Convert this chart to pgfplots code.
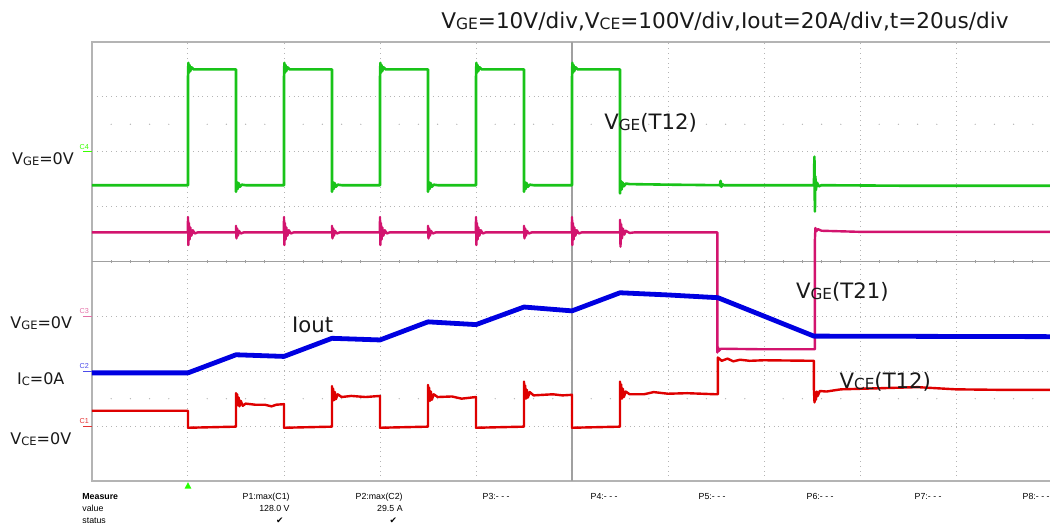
\documentclass[border=0pt]{standalone}
\usepackage{fontspec}
\setmainfont{DejaVu Sans}
\newfontfamily\arialf{Liberation Sans}
\newfontfamily\dejavu{DejaVu Sans}
\usepackage{graphicx}
\usepackage{pgfplots}
\pgfplotsset{compat=1.18}
\definecolor{cgreen}{RGB}{25,195,25}
\definecolor{cmag}{RGB}{210,20,110}
\definecolor{cblue}{RGB}{0,0,225}
\definecolor{cred}{RGB}{222,0,0}
\definecolor{cgrid}{RGB}{180,180,180}
\definecolor{ccenter}{RGB}{160,160,160}
\definecolor{ctext}{RGB}{25,25,25}
\newcommand{\sub}[1]{\raisebox{-0.1ex}{\scalebox{0.72}{#1}}}
\begin{document}
\begin{tikzpicture}
\begin{axis}[
  scale only axis, width=480pt, height=219.5pt,
  xmin=0, xmax=10, ymin=0, ymax=8,
  xtick={0,...,10}, ytick={0,...,8},
  xticklabels={}, yticklabels={},
  major tick length=0pt,
  grid=major,
  major grid style={cgrid, dotted, line width=0.5pt},
  axis line style={cgrid, line width=0.9pt},
  clip=false,
  every axis plot/.append style={line join=round, no marks},
]
% centre cross of the graticule
\draw[ccenter, line width=0.6pt] (axis cs:5,0) -- (axis cs:5,8);
\draw[ccenter, line width=0.6pt] (axis cs:0,4) -- (axis cs:10,4);
\pgfplotsinvokeforeach{0.2,0.4,0.6,0.8,1.2,1.4,1.6,1.8,2.2,2.4,2.6,2.8,3.2,3.4,3.6,3.8,4.2,4.4,4.6,4.8,5.2,5.4,5.6,5.8,6.2,6.4,6.6,6.8,7.2,7.4,7.6,7.8}{
  \draw[ccenter, line width=0.5pt] (axis cs:4.985,#1) -- (axis cs:5.015,#1);
}
\pgfplotsinvokeforeach{0.2,0.4,0.6,0.8,1.2,1.4,1.6,1.8,2.2,2.4,2.6,2.8,3.2,3.4,3.6,3.8,4.2,4.4,4.6,4.8,5.2,5.4,5.6,5.8,6.2,6.4,6.6,6.8,7.2,7.4,7.6,7.8,8.2,8.4,8.6,8.8,9.2,9.4,9.6,9.8}{
  \draw[ccenter, line width=0.5pt] (axis cs:#1,3.97) -- (axis cs:#1,4.03);
  \fill[cgrid] (axis cs:#1,6.5) circle (0.35pt);
  \fill[cgrid] (axis cs:#1,1.5) circle (0.35pt);
}

% VGE(T12) - green
\addplot[cgreen, line width=1.3pt] coordinates {
(0,5.39)(1.0,5.39)(1.0,7.35)(1.004,7.62)(1.01,7.44)(1.016,7.58)(1.024,7.47)(1.035,7.54)(1.06,7.50)(1.5,7.50)
(1.5,5.27)(1.508,5.45)(1.516,5.32)(1.526,5.43)(1.54,5.36)(1.56,5.40)(1.6,5.39)
(2.0,5.39)(2.0,7.35)(2.004,7.62)(2.01,7.44)(2.016,7.58)(2.024,7.47)(2.035,7.54)(2.06,7.50)(2.5,7.50)
(2.5,5.27)(2.508,5.45)(2.516,5.32)(2.526,5.43)(2.54,5.36)(2.56,5.40)(2.6,5.39)
(3.0,5.39)(3.0,7.35)(3.004,7.62)(3.01,7.44)(3.016,7.58)(3.024,7.47)(3.035,7.54)(3.06,7.50)(3.5,7.50)
(3.5,5.27)(3.508,5.45)(3.516,5.32)(3.526,5.43)(3.54,5.36)(3.56,5.40)(3.6,5.39)
(4.0,5.39)(4.0,7.35)(4.004,7.62)(4.01,7.44)(4.016,7.58)(4.024,7.47)(4.035,7.54)(4.06,7.50)(4.5,7.50)
(4.5,5.27)(4.508,5.45)(4.516,5.32)(4.526,5.43)(4.54,5.36)(4.56,5.40)(4.6,5.39)
(5.0,5.39)(5.0,7.35)(5.004,7.62)(5.01,7.44)(5.016,7.58)(5.024,7.47)(5.035,7.54)(5.06,7.50)(5.5,7.50)
(5.5,5.24)(5.508,5.47)(5.516,5.31)(5.526,5.44)(5.54,5.37)(5.56,5.42)(5.6,5.41)
(6.0,5.40)(6.54,5.39)(6.548,5.47)(6.556,5.36)(6.565,5.41)(6.58,5.39)
(7.52,5.39)(7.525,5.91)(7.53,4.91)(7.535,5.55)(7.54,5.30)(7.55,5.44)(7.57,5.37)(7.6,5.39)
(8.5,5.38)(10,5.38)
};

% VGE(T21) - magenta
\addplot[cmag, line width=1.2pt] coordinates {
(0,4.53)(0.998,4.53)(1.0,4.81)(1.004,4.30)(1.01,4.70)(1.016,4.40)(1.024,4.62)(1.035,4.47)(1.05,4.57)(1.07,4.51)(1.1,4.53)
(1.5,4.53)(1.5,4.65)(1.505,4.42)(1.512,4.60)(1.52,4.47)(1.53,4.56)(1.55,4.51)(1.58,4.53)
(1.998,4.53)(2.0,4.81)(2.004,4.30)(2.01,4.70)(2.016,4.40)(2.024,4.62)(2.035,4.47)(2.05,4.57)(2.07,4.51)(2.1,4.53)
(2.5,4.53)(2.5,4.65)(2.505,4.42)(2.512,4.60)(2.52,4.47)(2.53,4.56)(2.55,4.51)(2.58,4.53)
(2.998,4.53)(3.0,4.81)(3.004,4.30)(3.01,4.70)(3.016,4.40)(3.024,4.62)(3.035,4.47)(3.05,4.57)(3.07,4.51)(3.1,4.53)
(3.5,4.53)(3.5,4.65)(3.505,4.42)(3.512,4.60)(3.52,4.47)(3.53,4.56)(3.55,4.51)(3.58,4.53)
(3.998,4.53)(4.0,4.81)(4.004,4.30)(4.01,4.70)(4.016,4.40)(4.024,4.62)(4.035,4.47)(4.05,4.57)(4.07,4.51)(4.1,4.53)
(4.5,4.53)(4.5,4.65)(4.505,4.42)(4.512,4.60)(4.52,4.47)(4.53,4.56)(4.55,4.51)(4.58,4.53)
(4.998,4.53)(5.0,4.81)(5.004,4.30)(5.01,4.70)(5.016,4.40)(5.024,4.62)(5.035,4.47)(5.05,4.57)(5.07,4.51)(5.1,4.53)
(5.5,4.53)(5.5,4.76)(5.505,4.27)(5.512,4.68)(5.52,4.42)(5.53,4.60)(5.545,4.49)(5.56,4.56)(5.6,4.52)(5.65,4.53)
(6.514,4.53)(6.514,2.34)(6.52,2.44)(6.53,2.37)(6.55,2.41)(7.0,2.40)(7.53,2.40)
(7.53,4.38)(7.535,4.61)(7.545,4.55)(7.56,4.59)(7.6,4.56)(7.8,4.55)(8.0,4.54)(10,4.54)
};

% Iout - blue
\addplot[cblue, line width=2.4pt] coordinates {
(0,1.97)(1.0,1.97)(1.5,2.30)(2.0,2.27)(2.5,2.60)(3.0,2.57)(3.5,2.90)(4.0,2.85)
(4.5,3.17)(5.0,3.10)(5.5,3.43)(6.0,3.39)(6.52,3.34)(7.52,2.64)(10,2.63)
};

% VCE(T12) - red
\addplot[cred, line width=1.2pt] coordinates {
(0,1.28)(1.0,1.28)(1.0,0.97)(1.5,0.99)
(1.5,1.60)(1.506,1.45)(1.512,1.58)(1.52,1.38)(1.528,1.52)(1.536,1.36)(1.55,1.46)(1.57,1.37)(1.6,1.41)(1.7,1.39)(1.8,1.39)(1.87,1.36)(1.92,1.39)(2.0,1.40)
(2.0,0.97)(2.5,0.99)
(2.5,1.73)(2.506,1.50)(2.512,1.68)(2.52,1.47)(2.53,1.62)(2.54,1.49)(2.56,1.58)(2.6,1.53)(2.7,1.55)(2.85,1.53)(3.0,1.55)
(3.0,0.97)(3.5,0.99)
(3.5,1.75)(3.506,1.50)(3.512,1.70)(3.52,1.46)(3.53,1.63)(3.54,1.48)(3.56,1.58)(3.6,1.53)(3.75,1.54)(3.85,1.50)(4.0,1.53)
(4.0,0.97)(4.5,0.99)
(4.5,1.81)(4.506,1.52)(4.512,1.74)(4.52,1.50)(4.53,1.66)(4.54,1.52)(4.56,1.62)(4.6,1.56)(4.8,1.58)(4.9,1.56)(5.0,1.57)
(5.0,0.97)(5.5,0.99)
(5.5,1.81)(5.506,1.52)(5.512,1.76)(5.52,1.50)(5.53,1.68)(5.54,1.53)(5.56,1.63)(5.6,1.58)(5.75,1.58)(5.85,1.62)(6.0,1.59)(6.2,1.60)(6.5,1.58)
(6.52,1.58)(6.52,2.25)(6.56,2.19)(6.62,2.23)(6.68,2.18)(6.75,2.21)(6.85,2.19)(7.0,2.20)(7.52,2.19)
(7.52,1.66)(7.526,1.43)(7.532,1.62)(7.54,1.48)(7.55,1.63)(7.56,1.55)(7.58,1.64)(7.65,1.63)(7.8,1.67)
(8.2,1.69)(8.6,1.71)(9.0,1.67)(9.5,1.66)(10,1.66)
};

% channel markers
\node[anchor=south east, inner sep=0.4pt, text=green!70!lime, font=\arialf\fontsize{3.6}{4}\selectfont] at (axis cs:-0.02,6.02) {C4};
\draw[green!70!lime, line width=0.5pt] (axis cs:-0.09,6) -- (axis cs:0,6);
\node[anchor=south east, inner sep=0.4pt, text=cmag!60!white, font=\arialf\fontsize{3.6}{4}\selectfont] at (axis cs:-0.02,3.02) {C3};
\draw[cmag!60!white, line width=0.5pt] (axis cs:-0.09,3) -- (axis cs:0,3);
\node[anchor=south east, inner sep=0.4pt, text=cblue!70!white, font=\arialf\fontsize{3.6}{4}\selectfont] at (axis cs:-0.02,2.02) {C2};
\draw[cblue!70!white, line width=0.5pt] (axis cs:-0.09,2) -- (axis cs:0,2);
\node[anchor=south east, inner sep=0.4pt, text=cred!80!white, font=\arialf\fontsize{3.6}{4}\selectfont] at (axis cs:-0.02,1.02) {C1};
\draw[cred!80!white, line width=0.5pt] (axis cs:-0.09,1) -- (axis cs:0,1);

% trigger marker
\fill[green!80!lime] (axis cs:1,-0.02) -- (axis cs:0.965,-0.14) -- (axis cs:1.035,-0.14) -- cycle;

% title
\node[anchor=base, inner sep=0pt, text=ctext, font=\fontsize{10.8}{12}\selectfont] at (axis cs:6.593,8.25)
  {V\sub{GE}=10V/div,V\sub{CE}=100V/div,Iout=20A/div,t=20us/div};

% left labels
\node[anchor=base west, inner sep=0pt, text=ctext, font=\fontsize{8.0}{10}\selectfont] at (axis cs:-0.836,5.77) {V\sub{GE}=0V};
\node[anchor=base west, inner sep=0pt, text=ctext, font=\fontsize{8.0}{10}\selectfont] at (axis cs:-0.854,2.77) {V\sub{GE}=0V};
\node[anchor=base west, inner sep=0pt, text=ctext, font=\fontsize{8.0}{10}\selectfont] at (axis cs:-0.784,1.76) {I\sub{C}=0A};
\node[anchor=base west, inner sep=0pt, text=ctext, font=\fontsize{8.0}{10}\selectfont] at (axis cs:-0.854,0.656) {V\sub{CE}=0V};

% trace annotations
\node[anchor=base west, inner sep=0pt, text=ctext, font=\fontsize{10.6}{12}\selectfont] at (axis cs:5.333,6.40) {V\sub{GE}(T12)};
\node[anchor=base west, inner sep=0pt, text=ctext, font=\fontsize{10.6}{12}\selectfont] at (axis cs:2.08,2.70) {Iout};
\node[anchor=base west, inner sep=0pt, text=ctext, font=\fontsize{10.6}{12}\selectfont] at (axis cs:7.33,3.33) {V\sub{GE}(T21)};
\node[anchor=base west, inner sep=0pt, text=ctext, font=\fontsize{10.6}{12}\selectfont] at (axis cs:7.784,1.69) {V\sub{CE}(T12)};

% measure table
\node[anchor=base west, inner sep=0pt, font=\arialf\bfseries\fontsize{4.4}{5}\selectfont] at (axis cs:-0.104,-0.34) {Measure};
\node[anchor=base west, inner sep=0pt, font=\arialf\fontsize{4.4}{5}\selectfont] at (axis cs:-0.104,-0.56) {value};
\node[anchor=base west, inner sep=0pt, font=\arialf\fontsize{4.4}{5}\selectfont] at (axis cs:-0.104,-0.78) {status};
\node[anchor=base east, inner sep=0pt, font=\arialf\fontsize{4.4}{5}\selectfont] at (axis cs:2.0625,-0.34) {P1:max(C1)};
\node[anchor=base east, inner sep=0pt, font=\arialf\fontsize{4.4}{5}\selectfont] at (axis cs:2.0625,-0.56) {128.0 V};
\node[anchor=base east, inner sep=0pt, font=\dejavu\fontsize{4.4}{5}\selectfont] at (axis cs:2.0,-0.78) {✔};
\node[anchor=base east, inner sep=0pt, font=\arialf\fontsize{4.4}{5}\selectfont] at (axis cs:3.24,-0.34) {P2:max(C2)};
\node[anchor=base east, inner sep=0pt, font=\arialf\fontsize{4.4}{5}\selectfont] at (axis cs:3.24,-0.56) {29.5 A};
\node[anchor=base east, inner sep=0pt, font=\dejavu\fontsize{4.4}{5}\selectfont] at (axis cs:3.18,-0.78) {✔};
\node[anchor=base east, inner sep=0pt, font=\arialf\fontsize{4.4}{5}\selectfont] at (axis cs:4.354,-0.34) {P3:- - -};
\node[anchor=base east, inner sep=0pt, font=\arialf\fontsize{4.4}{5}\selectfont] at (axis cs:5.479,-0.34) {P4:- - -};
\node[anchor=base east, inner sep=0pt, font=\arialf\fontsize{4.4}{5}\selectfont] at (axis cs:6.604,-0.34) {P5:- - -};
\node[anchor=base east, inner sep=0pt, font=\arialf\fontsize{4.4}{5}\selectfont] at (axis cs:7.729,-0.34) {P6:- - -};
\node[anchor=base east, inner sep=0pt, font=\arialf\fontsize{4.4}{5}\selectfont] at (axis cs:8.854,-0.34) {P7:- - -};
\node[anchor=base east, inner sep=0pt, font=\arialf\fontsize{4.4}{5}\selectfont] at (axis cs:9.979,-0.34) {P8:- - -};

\coordinate (TL) at (axis cs:-0.9583,8.765);
\coordinate (BR) at (axis cs:9.979,-0.765);
\end{axis}
\pgfresetboundingbox
\path[use as bounding box] (TL) rectangle (BR);
\end{tikzpicture}
\end{document}
